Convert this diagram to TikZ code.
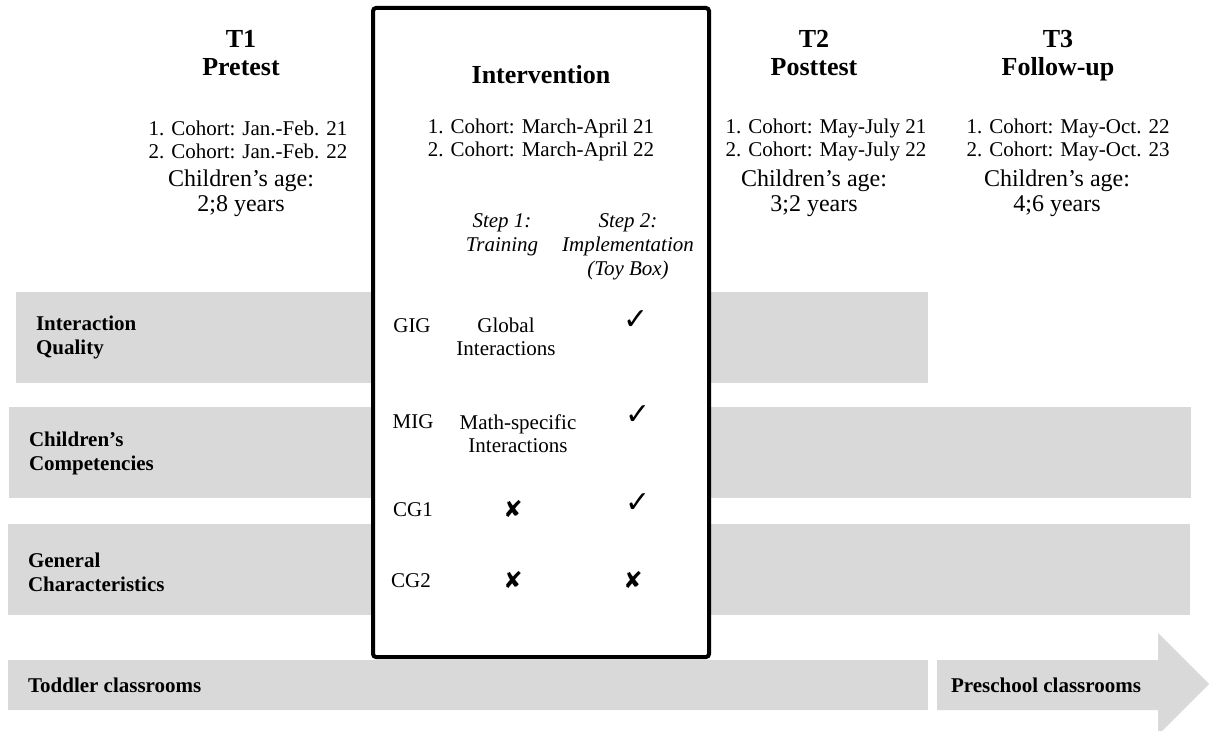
\documentclass[tikz,border=0pt]{standalone}
\usepackage{fontspec}
\setmainfont{Liberation Serif}
\newfontfamily\symfont{DejaVu Sans}
\definecolor{bargray}{HTML}{D9D9D9}

\begin{document}
\begin{tikzpicture}[x=0.5pt, y=-0.5pt,
  title/.style={font=\fontsize{13}{14}\selectfont\bfseries, align=center, execute at end node=\strut},
  cohort/.style={font=\fontsize{10.5}{11.5}\selectfont, align=center},
  age/.style={font=\fontsize{12}{12.5}\selectfont, align=center},
  steplabel/.style={font=\fontsize{10.5}{12}\selectfont\itshape, align=center},
  cell/.style={font=\fontsize{10.5}{11.5}\selectfont, align=center},
  barlabel/.style={font=\fontsize{10.5}{12}\selectfont\bfseries, align=left, anchor=west},
  yesmark/.style={font=\symfont\fontsize{15}{15}\selectfont},
  nomark/.style={font=\symfont\fontsize{11.5}{11.5}\selectfont}]
\clip (0,0) rectangle (1209,731);

% Grey bars
\fill[bargray] (16,292) rectangle (928,383);
\fill[bargray] (9,407) rectangle (1191,498);
\fill[bargray] (8,524) rectangle (1190,615);
\fill[bargray] (8,660) rectangle (928,710);
\fill[bargray] (937,660) -- (1158,660) -- (1158,633) -- (1209,684)
  -- (1158,735) -- (1158,710) -- (937,710) -- cycle;

% Intervention box
\draw[line width=2pt, rounded corners=1.5pt, fill=white] (373,8) rectangle (709,657);

% Time points
\node[title] (t1) at (241,57) {T1\\Pretest};
\node[title] (int) at (541,78) {Intervention};
\node[title] (t2) at (814,57) {T2\\Posttest};
\node[title] (t3) at (1058,57) {T3\\Follow-up};

% Cohorts
\node[cohort] (c1) at (248,140) {1. Cohort: Jan.-Feb. 21\\2. Cohort: Jan.-Feb. 22};
\node[cohort] (ci) at (541,140) {1. Cohort: March-April 21\\2. Cohort: March-April 22};
\node[cohort] (c2) at (826,140) {1. Cohort: May-July 21\\2. Cohort: May-July 22};
\node[cohort] (c3) at (1068,140) {1. Cohort: May-Oct. 22\\2. Cohort: May-Oct. 23};

% Age
\node[age] (a1) at (241,193) {Children’s age:\\2;8 years};
\node[age] (a2) at (814,193) {Children’s age:\\3;2 years};
\node[age] (a3) at (1057,193) {Children’s age:\\4;6 years};

% Steps
\node[steplabel] (s1) at (502,235) {Step 1:\\Training};
\node[steplabel] (s2) at (628,247) {Step 2:\\Implementation\\(Toy Box)};

% Groups
\node[cell] (gig) at (412,326) {GIG};
\node[cell] (gigtr) at (506,337) {Global\\Interactions};
\node[yesmark] (gigim) at (636,320) {✓};

\node[cell] (mig) at (413,422) {MIG};
\node[cell] (migtr) at (518,434) {Math-specific\\Interactions};
\node[yesmark] (migim) at (638,415) {✓};

\node[cell] (cg1) at (413,510) {CG1};
\node[nomark] (cg1tr) at (513,509) {✘};
\node[yesmark] (cg1im) at (638,503) {✓};

\node[cell] (cg2) at (411,581) {CG2};
\node[nomark] (cg2tr) at (513,580) {✘};
\node[nomark] (cg2im) at (633,580) {✘};

% Bar labels
\node[barlabel] (iq) at (29,337) {Interaction\\Quality};
\node[barlabel] (cc) at (22,453) {Children’s\\Competencies};
\node[barlabel] (gc) at (21,572) {General\\Characteristics};
\node[barlabel] (tc) at (21,685) {Toddler classrooms};
\node[barlabel] (pc) at (944,685) {Preschool classrooms};
\end{tikzpicture}
\end{document}
